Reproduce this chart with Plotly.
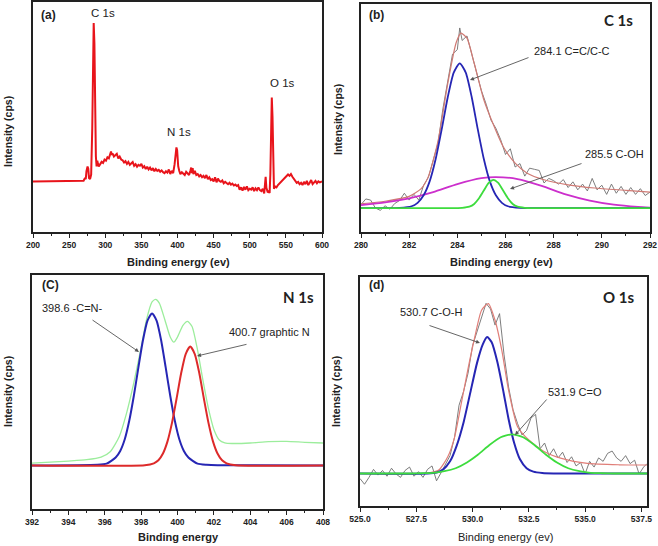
import plotly.graph_objects as go

W, H = 658, 546

# ---------------- (a) survey ----------------
survey_x = [200, 268, 270, 272, 273, 274, 275.5, 276.5, 277.5, 279, 280.5, 282, 283, 284, 285, 286, 287, 288,
            289, 290, 291, 293, 295, 297, 299, 301, 303, 305, 307, 308, 309, 310, 312, 314, 316, 318, 320, 322,
            324, 326, 328, 330, 332, 334, 336, 338, 340, 342, 344, 346, 348, 350, 352, 354, 356, 358, 360, 362,
            364, 366, 368, 370, 372, 374, 376, 378, 380, 382, 384, 386, 388, 390, 392, 394, 396, 397.5, 398.5,
            399.5, 401, 402.5, 404, 406, 408, 410, 412, 414, 416, 418, 419, 420, 421, 422, 424, 426, 428, 430,
            432, 434, 436, 438, 440, 442, 444, 446, 448, 450, 452, 454, 456, 458, 460, 462, 464, 466, 468, 470,
            472, 474, 476, 478, 480, 482, 484, 486, 488, 490, 492, 494, 496, 498, 500, 502, 504, 506, 508, 510,
            512, 514, 516, 518, 520, 521, 522, 523, 525, 526, 527.5, 528.5, 529.5, 530.5, 531.5, 532.5, 533.5,
            535, 537, 539, 541, 543, 545, 547, 549, 551, 553, 555, 557, 559, 561, 563, 565, 567, 569, 571, 573,
            575, 577, 579, 581, 583, 585, 587, 589, 591, 593, 595, 597, 600]
survey_y = [22.0, 22.0, 22.3, 23.5, 23.0, 26.5, 28.5, 27.5, 23.5, 23.0, 25.0, 45.0, 80.0, 90.9, 82.0, 50.0, 33.0, 28.5,
            31.0, 29.5, 28.5, 29.5, 30.5, 30.0, 31.5, 31.0, 32.5, 32.0, 34.0, 35.0, 33.5, 34.2, 32.8, 33.5, 34.0, 32.0,
            32.8, 31.5, 31.2, 30.2, 30.8, 29.6, 30.5, 29.2, 30.0, 30.4, 28.8, 29.5, 28.4, 29.2, 28.8, 29.6, 28.0,
            28.6, 27.4, 28.4, 27.2, 28.0, 26.8, 27.8, 26.4, 27.4, 26.6, 27.0, 26.2, 26.8, 26.0, 25.6, 26.4, 25.8,
            27.2, 25.2, 26.6, 25.6, 29.5, 34.5, 36.8, 35.5, 28.5, 26.5, 25.2, 26.0, 25.4, 24.8, 26.2, 25.2, 24.8,
            26.8, 28.0, 25.6, 27.8, 25.2, 26.6, 24.8, 25.2, 24.2, 24.8, 23.8, 24.4, 23.4, 24.8, 23.0, 23.8, 22.6,
            23.0, 22.0, 23.8, 21.6, 23.2, 22.2, 21.8, 22.4, 21.2, 21.8, 21.4, 20.8, 21.4, 20.6, 21.0, 20.2, 20.6,
            20.0, 20.4, 18.4, 19.4, 18.0, 19.6, 18.4, 19.8, 18.2, 18.8, 18.4, 19.4, 17.8, 19.0, 18.2, 19.4, 18.2,
            17.8, 18.8, 16.8, 19.8, 24.0, 19.2, 17.2, 17.6, 17.0, 25.0, 50.0, 58.5, 50.0, 25.0, 18.8, 19.8, 19.4,
            20.4, 21.0, 21.6, 22.2, 22.8, 23.6, 24.4, 25.0, 24.4, 25.2, 24.0, 23.0, 22.0, 21.4, 21.8, 20.8, 21.4,
            20.4, 21.8, 20.8, 22.2, 20.4, 21.4, 22.6, 20.8, 21.8, 22.2, 21.2, 22.0, 21.6, 22.0]

# ---------------- (b) C 1s ----------------
c1s_raw_x = [280.0, 280.2, 280.4, 280.6, 280.8, 281.0, 281.2, 281.4, 281.6, 281.8, 282.0, 282.2, 282.4, 282.6,
             282.8, 283.0, 283.2, 283.4, 283.6, 283.8, 284.0, 284.1, 284.2, 284.4, 284.6, 284.8, 285.0, 285.2,
             285.4, 285.6, 285.8, 286.0, 286.2, 286.4, 286.6, 286.8, 287.0, 287.2, 287.4, 287.6, 287.8, 288.0,
             288.2, 288.4, 288.6, 288.8, 289.0, 289.2, 289.4, 289.6, 289.8, 290.0, 290.2, 290.4, 290.6, 290.8,
             291.0, 291.2, 291.4, 291.6, 291.8, 292.0]
c1s_raw_y = [12.0, 14.5, 14.0, 10.5, 9.5, 11.5, 10.0, 12.5, 13.8, 17.0, 14.0, 16.5, 14.0, 20.5,
             24.0, 32.0, 39.0, 54.0, 66.0, 78.0, 80.0, 89.5, 84.0, 86.0, 78.0, 70.0, 62.0, 56.0,
             49.0, 45.5, 40.5, 34.0, 36.5, 28.5, 30.0, 24.5, 28.0, 27.5, 27.0, 21.5, 23.5, 22.5,
             21.0, 23.0, 19.5, 22.0, 18.5, 21.0, 18.0, 23.5, 18.5, 20.5, 16.5, 21.0, 17.0, 20.0,
             16.5, 19.5, 16.5, 19.0, 16.0, 17.5]
c1s_env_x = [280, 281, 282, 282.5, 282.8, 283.2, 283.6, 283.95, 284.15, 284.4, 284.7, 285.1, 285.5, 285.9,
             286.4, 286.9, 287.6, 288.6, 289.7, 291, 292]
c1s_env_y = [12.4, 13.5, 15.6, 19.0, 24.4, 40.0, 65.0, 83.0, 87.2, 85.0, 74.0, 58.0, 47.0, 37.5,
             30.2, 25.8, 22.9, 20.7, 19.3, 18.3, 17.5]
c1s_cc_x = [280, 281, 281.6, 282.1, 282.35, 282.6, 282.85, 283.1, 283.35, 283.6, 283.85, 284.1, 284.35, 284.6,
            284.85, 285.1, 285.35, 285.6, 285.85, 286.1, 286.6, 287.5, 292]
c1s_cc_y = [10.5, 10.5, 10.6, 11.3, 12.8, 16.1, 22.2, 32.0, 45.0, 59.0, 69.9, 74.0, 69.9, 59.0,
            45.0, 32.0, 22.2, 16.1, 12.8, 11.3, 10.6, 10.5, 10.5]
c1s_coh_x = [280, 283.9, 284.2, 284.5, 284.7, 284.9, 285.1, 285.3, 285.5, 285.7, 285.9, 286.1, 286.3, 286.5,
             286.8, 287.1, 292]
c1s_coh_y = [10.5, 10.5, 10.6, 11.1, 12.3, 14.8, 18.2, 21.5, 22.9, 21.5, 18.2, 14.8, 12.3, 11.1,
             10.6, 10.5, 10.5]
c1s_bg_x = [280, 281, 282, 283, 284, 285, 285.6, 286.5, 287.5, 288.5, 289.5, 290.5, 291.5, 292]
c1s_bg_y = [11.8, 13.0, 14.8, 17.5, 21.0, 23.6, 24.1, 23.2, 20.2, 16.5, 13.8, 12.0, 11.0, 10.7]

# ---------------- (c) N 1s ----------------
n1s_env_x = [392, 393, 394, 395, 395.8, 396.3, 396.8, 397.2, 397.6, 398.0, 398.3, 398.6, 398.8, 399.0, 399.3,
             399.6, 399.8, 400.0, 400.3, 400.55, 400.8, 401.1, 401.4, 401.7, 402.0, 402.3, 402.6, 403, 404,
             405, 406, 407, 408]
n1s_env_y = [19.6, 20.0, 20.5, 21.1, 22.2, 24.5, 31.0, 41.0, 54.0, 69.0, 81.0, 88.5, 89.6, 88.0, 81.0,
             73.5, 71.3, 73.5, 78.5, 80.2, 78.0, 68.0, 55.0, 43.0, 34.0, 29.5, 28.3, 28.0, 28.2,
             28.8, 28.9, 28.5, 28.2]
n1s_cn_x = [392, 395.6, 396.1, 396.6, 396.85, 397.1, 397.35, 397.6, 397.85, 398.1, 398.35, 398.6, 398.85, 399.1,
            399.35, 399.6, 399.85, 400.1, 400.35, 400.6, 401.1, 401.6, 402.2, 408]
n1s_cn_y = [18.6, 18.9, 19.4, 22.0, 24.8, 29.8, 37.8, 48.4, 60.5, 72.1, 80.5, 83.6, 80.5, 72.1,
            60.5, 48.4, 37.8, 29.8, 24.8, 22.0, 19.4, 18.9, 18.7, 18.6]
n1s_gn_x = [392, 398.2, 398.7, 398.95, 399.2, 399.45, 399.7, 399.95, 400.2, 400.45, 400.7, 400.95, 401.2, 401.45,
            401.7, 401.95, 402.2, 402.45, 402.7, 403.2, 408]
n1s_gn_y = [18.6, 18.7, 19.5, 20.8, 23.7, 28.9, 36.9, 47.2, 58.0, 66.2, 69.4, 66.2, 58.0, 47.2,
            36.9, 28.9, 23.7, 20.8, 19.5, 18.7, 18.6]

# ---------------- (d) O 1s ----------------
o1s_raw_x = [525.0, 525.2, 525.4, 525.6, 525.8, 526.0, 526.2, 526.4, 526.6, 526.8, 527.0, 527.2, 527.4, 527.6,
             527.8, 528.0, 528.2, 528.4, 528.6, 528.8, 529.0, 529.2, 529.4, 529.6, 529.8, 530.0, 530.2, 530.4,
             530.6, 530.8, 531.0, 531.2, 531.4, 531.6, 531.8, 532.0, 532.2, 532.4, 532.6, 532.8, 533.0, 533.2,
             533.4, 533.6, 533.8, 534.0, 534.2, 534.4, 534.6, 534.8, 535.0, 535.2, 535.4, 535.6, 535.8, 536.0,
             536.2, 536.4, 536.6, 536.8, 537.0, 537.2, 537.4, 537.6, 537.75]
o1s_raw_y = [12.0, 9.5, 12.5, 16.0, 13.5, 15.5, 13.0, 16.5, 14.0, 12.5, 15.5, 17.0, 13.0, 15.0,
             12.5, 16.0, 17.5, 11.0, 14.5, 18.5, 22.0, 30.0, 44.0, 50.0, 58.0, 70.0, 76.0, 83.0,
             88.5, 86.0, 79.0, 84.0, 66.0, 52.0, 42.0, 36.0, 31.0, 33.0, 38.5, 40.0, 25.0, 27.5,
             22.0, 25.0, 21.0, 23.5, 19.0, 21.5, 17.5, 19.0, 14.0, 19.5, 17.0, 21.0, 19.5, 23.0,
             24.0, 21.0, 19.5, 22.0, 18.5, 20.0, 14.0, 17.0, 18.5]
o1s_env_x = [525, 528, 528.5, 528.9, 529.2, 529.5, 529.8, 530.1, 530.4, 530.7, 531.0, 531.3, 531.6, 532.0,
             532.5, 533.2, 533.95, 535.1, 536.5, 537.75]
o1s_env_y = [14.2, 14.4, 15.7, 21.5, 30.0, 44.8, 60.0, 73.8, 85.5, 88.4, 81.1, 68.0, 50.6, 34.6,
             28.8, 23.7, 20.8, 18.6, 18.0, 17.9]
o1s_coh_x = [525, 528.0, 528.4, 528.7, 529.0, 529.3, 529.6, 529.9, 530.2, 530.45, 530.65, 530.85, 531.1, 531.35,
             531.6, 531.85, 532.1, 532.4, 532.7, 533.1, 533.6, 537.75]
o1s_coh_y = [14.2, 14.2, 14.6, 16.0, 19.5, 26.5, 36.5, 49.5, 62.5, 70.5, 73.8, 71.5, 63.0, 51.0,
             38.0, 27.5, 20.5, 16.5, 15.0, 14.4, 14.2, 14.2]
o1s_co_x = [525, 527.25, 527.75, 528.25, 528.75, 529.25, 529.75, 530.25, 530.75, 531.25, 531.75, 532.25, 532.75,
            533.25, 533.75, 534.25, 534.75, 535.25, 535.75, 536.25, 537.75]
o1s_co_y = [14.2, 14.2, 14.3, 14.5, 15.2, 16.5, 19.0, 22.5, 26.6, 30.0, 31.3, 30.0, 26.6,
            22.5, 19.0, 16.5, 15.2, 14.5, 14.3, 14.2, 14.2]


def px(x):
    return x / W


def py(y):
    return 1 - y / H


FONT = "Liberation Sans, Arial, sans-serif"
BIG = "Lato, Open Sans, sans-serif"

fig = go.Figure()


def line(x, y, color, width, ax, shape="spline"):
    fig.add_trace(go.Scatter(x=x, y=y, mode="lines", xaxis="x" + ax, yaxis="y" + ax,
                             line=dict(color=color, width=width, shape=shape, smoothing=0.6),
                             showlegend=False, hoverinfo="skip"))


# (a)
line(survey_x, survey_y, "#e8141b", 2.0, "", shape="linear")
# (b)
line(c1s_raw_x, c1s_raw_y, "#6e6e6e", 0.9, "2", shape="linear")
line(c1s_env_x, c1s_env_y, "#d07a74", 1.2, "2")
line(c1s_bg_x, c1s_bg_y, "#cc2fcc", 1.8, "2")
line(c1s_cc_x, c1s_cc_y, "#2626b4", 1.8, "2")
line(c1s_coh_x, c1s_coh_y, "#3ddc3d", 1.8, "2")
# (c)
line(n1s_env_x, n1s_env_y, "#9ced9c", 1.3, "3")
line(n1s_cn_x, n1s_cn_y, "#2626b4", 2.0, "3")
line(n1s_gn_x, n1s_gn_y, "#dd2a2a", 2.0, "3")
# (d)
line(o1s_raw_x, o1s_raw_y, "#6e6e6e", 0.9, "4", shape="linear")
line(o1s_env_x, o1s_env_y, "#e07e78", 1.2, "4")
line(o1s_coh_x, o1s_coh_y, "#2626b4", 2.0, "4")
line(o1s_co_x, o1s_co_y, "#3ddc3d", 1.8, "4")

frames = {
    "": (33, 322, 2, 232, [200, 600], 50, 25, None),
    "2": (361, 650, 4, 232, [280, 292], 2, 1, None),
    "3": (32, 323, 275, 509, [392, 408], 2, 1, None),
    "4": (360, 647, 277, 506, [525, 537.75], 2.5, 1.25, ".1f"),
}
layout = dict(width=W, height=H, margin=dict(l=0, r=0, t=0, b=0, autoexpand=False),
              paper_bgcolor="white", plot_bgcolor="white", showlegend=False)
for key, (l, r, t, b, xr, dt, mdt, fmt) in frames.items():
    xa = dict(domain=[px(l), px(r)], range=xr, anchor="y" + key, showline=True, linecolor="#222",
              linewidth=1.6, mirror=True, showgrid=False, zeroline=False, ticks="outside", ticklen=4,
              tickwidth=1.2, tickcolor="#222", dtick=dt, tick0=xr[0], automargin=False,
              tickfont=dict(family=FONT, size=8.5, color="#222", weight="bold"),
              minor=dict(ticks="outside", ticklen=2.5, dtick=mdt, tick0=xr[0], tickcolor="#222"))
    if fmt:
        xa["tickformat"] = fmt
    ya = dict(domain=[py(b), py(t)], range=[0, 100], anchor="x" + key, showline=True, linecolor="#222",
              linewidth=1.6, mirror=True, showgrid=False, zeroline=False, showticklabels=False, ticks="",
              automargin=False)
    layout["xaxis" + key] = xa
    layout["yaxis" + key] = ya
fig.update_layout(**layout)


def txt(x, y, s, size=11, bold=False, anchor="center", family=FONT, angle=0):
    fig.add_annotation(x=px(x), y=py(y), xref="paper", yref="paper", text=s, showarrow=False,
                       xanchor=anchor, yanchor="middle", textangle=angle,
                       font=dict(family=family, size=size, color="#222", weight="bold" if bold else "normal"))


def arrow(tail, tip):
    fig.add_annotation(x=px(tip[0]), y=py(tip[1]), xref="paper", yref="paper", text="",
                       showarrow=True, ax=tail[0] - tip[0], ay=tail[1] - tip[1],
                       arrowhead=2, arrowsize=0.9, arrowwidth=0.9, arrowcolor="#555")


# panel labels
txt(39, 15, "(a)", 12, True, "left")
txt(367, 15, "(b)", 12, True, "left")
txt(40, 285, "(C)", 12, True, "left")
txt(367, 285, "(d)", 12, True, "left")
# (a) peak labels
txt(103, 13, "C 1s", 11.5)
txt(179, 132, "N 1s", 11.5)
txt(282, 83, "O 1s", 11.5)
# big region labels
txt(618, 20, "C 1s", 15, True, family=BIG)
txt(298, 297, "N 1s", 15, True, family=BIG)
txt(618, 297, "O 1s", 15, True, family=BIG)
# component annotations
txt(532, 51, "284.1 C=C/C-C", 11, anchor="left")
arrow((530, 57), (470, 80))
txt(583, 154, "285.5 C-OH", 11, anchor="left")
arrow((583, 163), (510, 189))
txt(40, 308, "398.6 -C=N-", 11, anchor="left")
arrow((91, 319), (139, 352))
txt(227, 332, "400.7 graphtic N", 11, anchor="left")
arrow((248, 344), (197, 356))
txt(398, 312, "530.7 C-O-H", 11, anchor="left")
arrow((428, 325), (480, 343))
txt(546, 392, "531.9 C=O", 11, anchor="left")
arrow((548, 398), (515, 435))
# axis titles
txt(178, 262, "Binding energy (ev)", 11, True)
txt(501, 262, "Binding energy (ev)", 11, True)
txt(178, 537, "Binding energy", 11, True)
txt(505, 537, "Binding energy (ev)", 11, False)
txt(8, 132, "Intensity (cps)", 10.5, True, angle=-90)
txt(338, 120, "Intensity (cps)", 10.5, True, angle=-90)
txt(8, 392, "Intensity (cps)", 10.5, True, angle=-90)
txt(336, 392, "Intensity (cps)", 10.5, True, angle=-90)

fig.write_html("out.html", config={"displayModeBar": False},
               post_script="document.body.style.margin='0';document.body.style.padding='0';"
                           "document.documentElement.style.overflow='hidden';")
